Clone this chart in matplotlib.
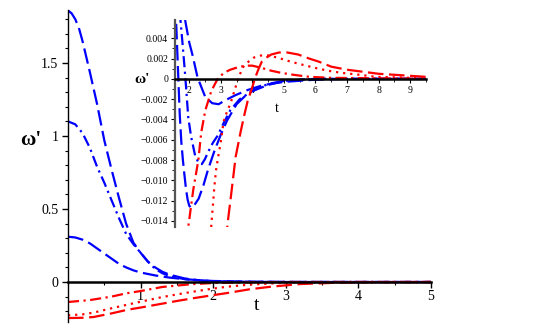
import matplotlib
matplotlib.use("Agg")
import matplotlib.pyplot as plt
from matplotlib.ticker import MultipleLocator, FixedLocator, FuncFormatter

plt.rcParams['font.family'] = ['Liberation Serif', 'DejaVu Serif']
plt.rcParams['axes.unicode_minus'] = True

BLUE = '#0000ff'
RED = '#ff0000'

# ---- main plot data (t, omega') ----
t_blue_a = [0, 0.05, 0.1, 0.15, 0.2, 0.3, 0.4, 0.5, 0.6, 0.7, 0.8, 0.9, 1.0, 1.1, 1.2, 1.3, 1.4,
            1.6, 1.8, 2.0, 2.5, 3, 5]
w_blue_a = [1.86, 1.84, 1.80, 1.74, 1.65, 1.44, 1.22, 0.97, 0.77, 0.58, 0.40, 0.27, 0.20, 0.14, 0.10,
            0.07, 0.05, 0.025, 0.012, 0.005, 0.001, 0, 0]

t_blue_b = [0, 0.1, 0.2, 0.3, 0.4, 0.5, 0.6, 0.7, 0.8, 0.9, 1.0, 1.1, 1.2, 1.3, 1.4, 1.6, 1.8, 2.0,
            2.5, 3, 5]
w_blue_b = [1.10, 1.08, 1.02, 0.92, 0.79, 0.68, 0.56, 0.44, 0.33, 0.26, 0.20, 0.14, 0.09, 0.06,
            0.04, 0.02, 0.01, 0.004, 0.001, 0, 0]

t_blue_c = [0, 0.1, 0.2, 0.3, 0.4, 0.5, 0.6, 0.7, 0.8, 0.9, 1.0, 1.2, 1.4, 1.6, 1.8, 2.0, 2.5, 3, 4, 5]
w_blue_c = [0.31, 0.305, 0.29, 0.265, 0.23, 0.195, 0.16, 0.125, 0.10, 0.08, 0.065, 0.045, 0.03,
            0.02, 0.012, 0.007, 0.002, 0.0005, 0, 0]

t_red_a = [0, 0.3, 0.6, 0.8, 1.0, 1.3, 1.7, 2.0, 2.5, 3, 5]
w_red_a = [-0.137, -0.124, -0.10, -0.078, -0.062, -0.034, -0.015, -0.007, -0.002, 0, 0]

t_red_b = [0, 0.2, 0.35, 0.6, 0.82, 1.0, 1.28, 1.5, 1.74, 2.0, 2.2, 2.5, 3, 3.5, 4, 5]
w_red_b = [-0.228, -0.222, -0.21, -0.18, -0.155, -0.135, -0.105, -0.085, -0.065, -0.045, -0.032,
           -0.018, -0.005, -0.001, 0, 0]

t_red_c = [0, 0.2, 0.35, 0.6, 0.82, 1.0, 1.28, 1.5, 1.74, 2.0, 2.2, 2.5, 2.8, 3.2, 3.7, 4.2, 5]
w_red_c = [-0.247, -0.245, -0.24, -0.215, -0.19, -0.175, -0.15, -0.13, -0.11, -0.09, -0.075, -0.05,
           -0.032, -0.014, -0.005, -0.001, 0]

# ---- inset data (zoom on the tails) ----
ti_blue_a = [1.56, 1.6, 1.65, 1.7, 1.75, 1.8, 1.85, 1.9, 1.95, 2.0, 2.06, 2.15, 2.3, 2.45, 2.6, 2.8,
             3.0, 3.2, 3.5, 3.8, 4.0, 4.5, 5, 5.5, 6, 9.5]
wi_blue_a = [0.0075, 0.0045, 0.0005, -0.0035, -0.0062, -0.0080, -0.0095, -0.0109, -0.0119, -0.0125,
             -0.0127, -0.0125, -0.0118, -0.0105, -0.0089, -0.0071, -0.0055, -0.0041, -0.0025,
             -0.0016, -0.0012, -0.0006, -0.0002, -0.0001, 0, 0]

ti_blue_b = [1.7, 1.78, 1.85, 1.9, 1.97, 2.06, 2.19, 2.3, 2.4, 2.5, 2.6, 2.75, 2.9, 3.1, 3.3, 3.6, 4.0,
             4.5, 5, 6, 9.5]
wi_blue_b = [0.0066, 0.0038, 0.0012, -0.0008, -0.0038, -0.0057, -0.0076, -0.0083, -0.0084, -0.0079,
             -0.0072, -0.0063, -0.0056, -0.0043, -0.0031, -0.0020, -0.0012, -0.0005, -0.0002, 0, 0]

ti_blue_c = [1.8, 1.87, 2.0, 2.1, 2.26, 2.32, 2.51, 2.73, 2.93, 3.15, 3.47, 3.85, 4.36, 5.0, 5.9, 7, 9.5]
wi_blue_c = [0.0080, 0.0058, 0.0036, 0.0024, 0.0002, -0.0003, -0.0018, -0.0024, -0.0025, -0.0021,
             -0.0016, -0.0011, -0.0006, -0.0003, -0.0001, 0, 0]

ti_red_a = [1.95, 1.97, 2.13, 2.29, 2.38, 2.51, 2.7, 2.9, 3.1, 3.3, 3.6, 3.85, 4.0, 4.27, 4.6, 4.9,
            5.3, 5.8, 6.5, 8, 9.5]
wi_red_a = [-0.016, -0.0146, -0.0109, -0.0080, -0.0053, -0.0031, -0.0012, 0.0, 0.0006, 0.0009,
            0.0012, 0.0013, 0.0013, 0.0011, 0.0008, 0.0006, 0.0004, 0.0002, 0.0001, 0.00005, 0]

ti_red_b = [2.68, 2.70, 2.75, 2.80, 2.85, 2.9, 3.0, 3.09, 3.2, 3.31, 3.47, 3.55, 3.69, 3.88, 4.05,
            4.27, 4.5, 4.8, 5.1, 5.45, 5.96, 6.4, 6.8, 7.4, 7.9, 8.5, 9.0, 9.5]
wi_red_b = [-0.016, -0.0144, -0.0125, -0.0105, -0.0090, -0.0080, -0.0062, -0.0042, -0.0032,
            -0.0024, -0.0008, 0.0, 0.0011, 0.0017, 0.0021, 0.0023, 0.0023, 0.0021, 0.0018, 0.0015,
            0.0011, 0.0008, 0.0006, 0.0004, 0.0002, 0.00015, 0.0001, 0.00005]

ti_red_c = [3.18, 3.21, 3.34, 3.47, 3.63, 3.75, 3.85, 4.0, 4.1, 4.2, 4.3, 4.45, 4.6, 4.85, 5.1, 5.45,
            5.8, 6.1, 6.5, 7.0, 7.5, 8.0, 8.5, 9.0, 9.5]
wi_red_c = [-0.016, -0.0144, -0.0111, -0.0077, -0.0052, -0.0035, -0.0022, -0.0008, 0.0002, 0.0010,
            0.0017, 0.0021, 0.0024, 0.0026, 0.0026, 0.0024, 0.0020, 0.0017, 0.0012, 0.0009, 0.0007,
            0.0005, 0.0004, 0.0003, 0.0002]

LONG_DASH = (0, (7, 2.5))
DASH_DOT = (0, (5, 2, 1, 2))
DOTTED = (0, (1, 2.2))


def style_axes(ax, spine_color, spine_lw, zero_lw):
    ax.set_facecolor('none')
    ax.spines['top'].set_visible(False)
    ax.spines['right'].set_visible(False)
    ax.spines['bottom'].set_position(('data', 0))
    ax.spines['bottom'].set_linewidth(zero_lw)
    ax.spines['bottom'].set_color('black')
    ax.spines['bottom'].set_zorder(5)
    ax.spines['left'].set_color(spine_color)
    ax.spines['left'].set_linewidth(spine_lw)
    ax.tick_params(which='both', direction='out', colors='black')


fig = plt.figure(figsize=(5.45, 3.27), dpi=100)

# main axes
ax = fig.add_axes([68 / 545, 1 - 322 / 327, (431 - 68) / 545, (322 - 10) / 327])
style_axes(ax, 'black', 1.0, 1.8)
lw = 1.6
ax.plot(t_blue_a, w_blue_a, color=BLUE, lw=lw, ls=LONG_DASH)
ax.plot(t_blue_b, w_blue_b, color=BLUE, lw=lw, ls=DASH_DOT)
ax.plot(t_blue_c, w_blue_c, color=BLUE, lw=lw, ls=LONG_DASH)
ax.plot(t_red_a, w_red_a, color=RED, lw=lw, ls=DASH_DOT)
ax.plot(t_red_b, w_red_b, color=RED, lw=lw, ls=DOTTED)
ax.plot(t_red_c, w_red_c, color=RED, lw=lw, ls=LONG_DASH)
ax.set_xlim(0, 5)
ax.set_ylim(-0.274, 1.863)
ax.xaxis.set_major_locator(FixedLocator([1, 2, 3, 4, 5]))
ax.xaxis.set_minor_locator(MultipleLocator(0.5))
ax.yaxis.set_major_locator(FixedLocator([0, 0.5, 1, 1.5]))
ax.yaxis.set_minor_locator(MultipleLocator(0.1))
ax.yaxis.set_major_formatter(FuncFormatter(lambda v, p: '%g' % v))
ax.tick_params(which='major', length=4, width=1, labelsize=10, pad=3)
ax.tick_params(which='minor', length=2.5, width=0.8)
ax.tick_params(axis='x', which='major', pad=2)
fig.text(20 / 545, 1 - 140 / 327, "ω'", fontsize=15, fontweight='bold', ha='left', va='center')
fig.text(257 / 545, 1 - 305 / 327, 't', fontsize=14, ha='center', va='center')

# inset axes
ins = fig.add_axes([175 / 545, 1 - 227 / 327, (426 - 175) / 545, (227 - 20) / 327])
style_axes(ins, '#555555', 1.6, 1.8)
lwi = 1.6
ins.plot(ti_blue_a, wi_blue_a, color=BLUE, lw=lwi, ls=LONG_DASH)
ins.plot(ti_blue_b, wi_blue_b, color=BLUE, lw=lwi, ls=DASH_DOT)
ins.plot(ti_blue_c, wi_blue_c, color=BLUE, lw=lwi, ls=LONG_DASH)
ins.plot(ti_red_a, wi_red_a, color=RED, lw=lwi, ls=DASH_DOT)
ins.plot(ti_red_b, wi_red_b, color=RED, lw=lwi, ls=DOTTED)
ins.plot(ti_red_c, wi_red_c, color=RED, lw=lwi, ls=LONG_DASH)
ins.set_xlim(1.55, 9.5)
ins.set_ylim(-0.0146, 0.0058)
ins.xaxis.set_major_locator(FixedLocator([2, 3, 4, 5, 6, 7, 8, 9]))
ins.xaxis.set_minor_locator(MultipleLocator(0.5))
ins.yaxis.set_major_locator(MultipleLocator(0.002))
ins.yaxis.set_minor_locator(MultipleLocator(0.001))
ins.yaxis.set_major_formatter(FuncFormatter(lambda v, p: '0' if abs(v) < 1e-9 else ('%.3f' % v).replace('-', '\u2212')))
ins.tick_params(which='major', length=3, width=0.8, labelsize=7, pad=2)
ins.tick_params(which='minor', length=2, width=0.6)
fig.text(142 / 545, 1 - 80 / 327, "ω'", fontsize=11, fontweight='bold', ha='center', va='center')
fig.text(277 / 545, 1 - 108 / 327, 't', fontsize=10, ha='center', va='center')

fig.savefig('out.png', dpi=100)
